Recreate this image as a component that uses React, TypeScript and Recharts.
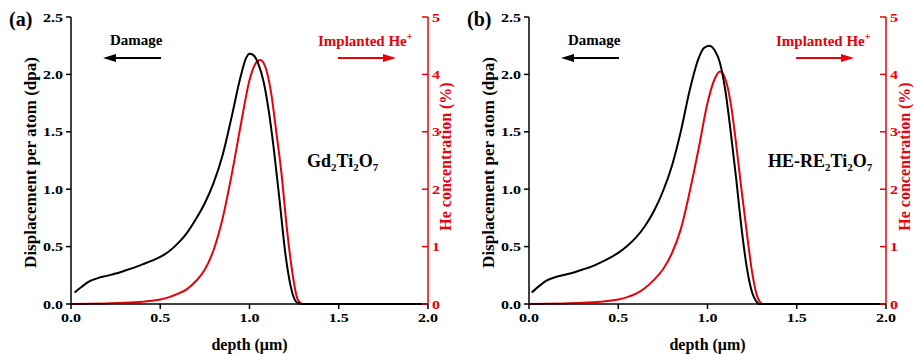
import React from 'react';
import { LineChart, Line, XAxis, YAxis } from 'recharts';

// ---------- data ----------
const depthDamageA = [0.02, 0.06, 0.1, 0.15, 0.2, 0.25, 0.3, 0.35, 0.4, 0.45, 0.5, 0.55, 0.6, 0.65, 0.7, 0.75, 0.8, 0.85, 0.9, 0.95, 0.98, 1.0, 1.02, 1.05, 1.08, 1.11, 1.14, 1.17, 1.2, 1.23, 1.25, 1.27, 1.3, 2.0];
const dpaA = [0.1, 0.15, 0.195, 0.225, 0.245, 0.265, 0.29, 0.315, 0.345, 0.375, 0.41, 0.46, 0.53, 0.62, 0.74, 0.88, 1.06, 1.3, 1.63, 1.98, 2.14, 2.18, 2.17, 2.09, 1.93, 1.66, 1.3, 0.88, 0.45, 0.16, 0.05, 0.01, 0.0, 0.0];
const depthHeA = [0.0, 0.1, 0.2, 0.3, 0.4, 0.5, 0.55, 0.6, 0.65, 0.7, 0.75, 0.8, 0.85, 0.9, 0.95, 1.0, 1.03, 1.06, 1.09, 1.12, 1.15, 1.18, 1.21, 1.24, 1.27, 1.3, 2.0];
const heA = [0.0, 0.003, 0.01, 0.02, 0.04, 0.08, 0.12, 0.18, 0.26, 0.4, 0.6, 0.95, 1.5, 2.25, 3.1, 3.9, 4.17, 4.25, 4.12, 3.7, 3.0, 2.25, 1.3, 0.55, 0.08, 0.0, 0.0];

const depthDamageB = [0.015, 0.06, 0.1, 0.15, 0.2, 0.25, 0.3, 0.35, 0.4, 0.45, 0.5, 0.55, 0.6, 0.65, 0.7, 0.75, 0.8, 0.85, 0.9, 0.95, 0.98, 1.01, 1.04, 1.07, 1.1, 1.13, 1.16, 1.19, 1.22, 1.25, 1.27, 1.29, 2.0];
const dpaB = [0.1, 0.16, 0.205, 0.235, 0.255, 0.275, 0.3, 0.325, 0.36, 0.4, 0.445, 0.505, 0.58, 0.68, 0.81, 0.98, 1.2, 1.5, 1.86, 2.14, 2.23, 2.25, 2.21, 2.1, 1.86, 1.5, 1.1, 0.67, 0.32, 0.1, 0.03, 0.0, 0.0];
const depthHeB = [0.0, 0.1, 0.2, 0.3, 0.4, 0.5, 0.55, 0.6, 0.65, 0.7, 0.75, 0.8, 0.85, 0.9, 0.95, 1.0, 1.04, 1.07, 1.1, 1.13, 1.16, 1.19, 1.22, 1.25, 1.28, 1.31, 2.0];
const heB = [0.0, 0.003, 0.01, 0.02, 0.04, 0.08, 0.12, 0.18, 0.28, 0.42, 0.6, 0.88, 1.3, 1.95, 2.7, 3.5, 3.92, 4.05, 3.92, 3.5, 2.8, 2.0, 1.25, 0.55, 0.12, 0.0, 0.0];

const depthTicks = [0, 0.5, 1.0, 1.5, 2.0];
const dpaTicks = [0, 0.5, 1.0, 1.5, 2.0, 2.5];
const heTicks = [0, 1, 2, 3, 4, 5];

const panelLabels = ['(a)', '(b)'];
const xTitle = 'depth (\u03bcm)';
const yLeftTitle = 'Displacement per atom (dpa)';
const yRightTitle = 'He concentration (%)';
const damageText = 'Damage';
const heText = 'Implanted He';

// ---------- style ----------
const FONT = "'Liberation Serif', 'Times New Roman', Times, 'DejaVu Serif', serif";
const TXT: React.CSSProperties = { fontFamily: FONT, fontWeight: 700 };
const RED = '#e8000b';
const W = 457;
const H = 354;
const TICK_FS = 16;
const SY = 0.82;

const zip = (xs: number[], ys: number[]) => xs.map((x, i) => ({ depth: x, v: ys[i] }));

const LeftTick = (props: any) => {
  const { x, y, payload } = props;
  return (
    <text
      transform={`translate(${x},${y + 4.5}) scale(1,${SY})`}
      textAnchor="end"
      style={TXT}
      fontSize={TICK_FS}
      fill="#000"
    >
      {Number(payload.value).toFixed(1)}
    </text>
  );
};

const BottomTick = (props: any) => {
  const { x, y, payload } = props;
  return (
    <text
      transform={`translate(${x},${y + 10}) scale(1,${SY})`}
      textAnchor="middle"
      style={TXT}
      fontSize={TICK_FS}
      fill="#000"
    >
      {Number(payload.value).toFixed(1)}
    </text>
  );
};

const RightTick = (props: any) => {
  const { x, y, payload } = props;
  const ax = x - 3;
  return (
    <g>
      <line x1={ax - 6} x2={ax} y1={y} y2={y} stroke={RED} strokeWidth={1.5} />
      <text
        transform={`translate(${x + 1},${y + 4.5}) scale(1,${SY})`}
        textAnchor="start"
        style={TXT}
        fontSize={TICK_FS}
        fill={RED}
      >
        {String(payload.value)}
      </text>
    </g>
  );
};

type Part = { t: string; sub?: boolean };

const Panel = ({
  tag,
  damage,
  he,
  material,
  materialX,
  rightTitleX,
}: {
  tag: string;
  damage: { depth: number; v: number }[];
  he: { depth: number; v: number }[];
  material: Part[];
  materialX: number;
  rightTitleX: number;
}) => {
  const plotL = 71;
  const plotR = 428;
  const plotT = 17;
  const plotB = 304;
  const cx = (plotL + plotR) / 2;
  const cy = (plotT + plotB) / 2;
  return (
    <div style={{ position: 'relative', width: W, height: H }}>
      <LineChart width={W} height={H} margin={{ top: plotT, right: 0, bottom: 0, left: 0 }}>
        <XAxis
          xAxisId="bottom"
          type="number"
          dataKey="depth"
          domain={[0, 2]}
          ticks={depthTicks}
          allowDataOverflow
          height={H - plotB}
          axisLine={{ stroke: '#000', strokeWidth: 1.5 }}
          tickLine={{ stroke: '#000', strokeWidth: 1.5 }}
          tickSize={5}
          tickMargin={3}
          tick={<BottomTick />}
          interval={0}
        />
        <XAxis
          xAxisId="top"
          orientation="top"
          type="number"
          dataKey="depth"
          domain={[0, 2]}
          height={0}
          tick={false}
          tickLine={false}
          axisLine={{ stroke: '#000', strokeWidth: 1.5 }}
        />
        <YAxis
          yAxisId="left"
          type="number"
          domain={[0, 2.5]}
          ticks={dpaTicks}
          width={plotL}
          axisLine={{ stroke: '#000', strokeWidth: 1.5 }}
          tickLine={{ stroke: '#000', strokeWidth: 1.5 }}
          tickSize={5}
          tickMargin={3}
          tick={<LeftTick />}
          interval={0}
        />
        <YAxis
          yAxisId="right"
          orientation="right"
          type="number"
          domain={[0, 5]}
          ticks={heTicks}
          width={W - plotR}
          axisLine={{ stroke: RED, strokeWidth: 1.5 }}
          tickLine={false}
          tickSize={0}
          tickMargin={3}
          tick={<RightTick />}
          interval={0}
        />
        <Line
          data={he}
          xAxisId="bottom"
          yAxisId="right"
          dataKey="v"
          type="monotone"
          stroke={RED}
          strokeWidth={2}
          dot={false}
          isAnimationActive={false}
        />
        <Line
          data={damage}
          xAxisId="bottom"
          yAxisId="left"
          dataKey="v"
          type="monotone"
          stroke="#000"
          strokeWidth={2}
          dot={false}
          isAnimationActive={false}
        />
      </LineChart>
      <svg
        width={W}
        height={H}
        style={{ position: 'absolute', left: 0, top: 0, pointerEvents: 'none', ...TXT }}
      >
        <text x={9} y={26} fontSize={20} style={TXT}>{tag}</text>
        <text
          transform={`translate(30,${cy + 2}) rotate(-90)`}
          textAnchor="middle"
          dominantBaseline="central"
          fontSize={17}
          style={TXT}
        >
          {yLeftTitle}
        </text>
        <text
          transform={`translate(${rightTitleX},${cy - 4}) rotate(-90)`}
          textAnchor="middle"
          dominantBaseline="central"
          fontSize={16}
          fill={RED}
          style={TXT}
        >
          {yRightTitle}
        </text>
        <text x={cx} y={350} textAnchor="middle" fontSize={16} style={TXT}>{xTitle}</text>
        {/* damage arrow */}
        <text x={110} y={45} fontSize={15} style={TXT}>{damageText}</text>
        <line x1={114} x2={161} y1={58} y2={58} stroke="#000" strokeWidth={2} />
        <polygon points="103,58 116,54 116,62" fill="#000" />
        {/* implanted arrow */}
        <text x={318} y={46} fontSize={15} fill={RED} style={TXT}>
          {heText}
          <tspan dy={-6} fontSize={10}>+</tspan>
        </text>
        <line x1={338} x2={385} y1={58} y2={58} stroke={RED} strokeWidth={2} />
        <polygon points="396,58 383,54 383,62" fill={RED} />
        {/* material */}
        <text x={materialX} y={167} fontSize={18} style={TXT}>
          {material.map((p, i) => {
            const prevSub = i > 0 && material[i - 1].sub;
            const dy = p.sub ? 4 : prevSub ? -4 : 0;
            return (
              <tspan key={i} dy={dy} fontSize={p.sub ? 11 : 18}>
                {p.t}
              </tspan>
            );
          })}
        </text>
      </svg>
    </div>
  );
};

const matA: Part[] = [
  { t: 'Gd' },
  { t: '2', sub: true },
  { t: 'Ti' },
  { t: '2', sub: true },
  { t: 'O' },
  { t: '7', sub: true },
];
const matB: Part[] = [
  { t: 'HE-RE' },
  { t: '2', sub: true },
  { t: 'Ti' },
  { t: '2', sub: true },
  { t: 'O' },
  { t: '7', sub: true },
];

export default function App() {
  return (
    <div
      style={{
        position: 'absolute',
        left: 0,
        top: 0,
        width: 914,
        height: 354,
        overflow: 'hidden',
        background: '#fff',
      }}
    >
      <div style={{ position: 'absolute', left: 0, top: 0 }}>
        <Panel tag={panelLabels[0]} damage={zip(depthDamageA, dpaA)} he={zip(depthHeA, heA)} material={matA} materialX={307} rightTitleX={445} />
      </div>
      <div style={{ position: 'absolute', left: 458, top: 0 }}>
        <Panel tag={panelLabels[1]} damage={zip(depthDamageB, dpaB)} he={zip(depthHeB, heB)} material={matB} materialX={310} rightTitleX={446} />
      </div>
    </div>
  );
}
